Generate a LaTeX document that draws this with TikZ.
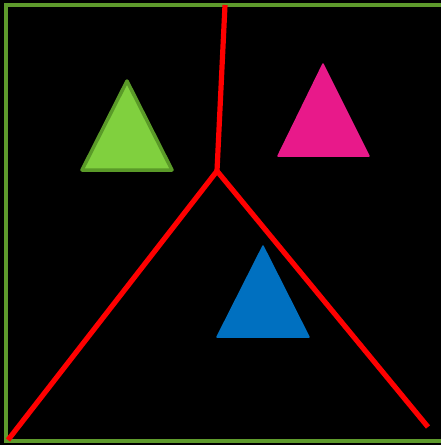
\documentclass[tikz,border=0pt]{standalone}
\definecolor{bordergreen}{HTML}{5E9A2C}
\definecolor{lightgreen}{HTML}{80D03E}
\definecolor{darkgreen}{HTML}{5A9A28}
\definecolor{pink}{HTML}{E8198A}
\definecolor{blueish}{HTML}{0070C0}
\definecolor{redline}{HTML}{FF0000}
\begin{document}
\begin{tikzpicture}[x=1pt,y=-1pt,
  redseg/.style={draw=redline,line width=5.2pt},
  tri/.style={line join=round}]
\fill[black] (0,0) rectangle (441,445);
\useasboundingbox (0,0) rectangle (441,445);
% border
\draw[bordergreen,line width=4pt] (446,5) -- (6,5) -- (6,441) -- (446,441);
% red lines
\coordinate (top) at (225,5);
\coordinate (hub) at (217,171);
\coordinate (bl) at (8,440);
\coordinate (br) at (428,427);
\draw[redseg] (top) -- (hub);
\draw[redseg,line join=miter] (bl) -- (hub) -- (br);
% triangles
\filldraw[tri,fill=lightgreen,draw=darkgreen,line width=3.5pt] (127,81) -- (172,170) -- (82,170) -- cycle;
\filldraw[tri,fill=pink,draw=pink,line width=1.5pt] (323,64) -- (369,156) -- (278,156) -- cycle;
\filldraw[tri,fill=blueish,draw=blueish,line width=1.5pt] (263,246) -- (309,337) -- (217,337) -- cycle;
\end{tikzpicture}
\end{document}
